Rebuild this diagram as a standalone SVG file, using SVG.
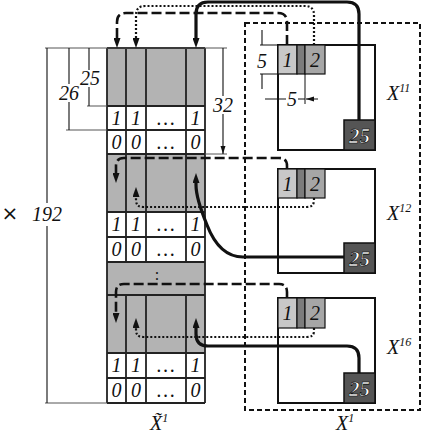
<svg xmlns="http://www.w3.org/2000/svg" width="422" height="433" viewBox="0 0 422 433">
<style>
text{font-family:"Liberation Serif","DejaVu Serif",serif;font-style:italic;fill:#111}
.num{font-size:20px;text-anchor:middle}
.lbl{font-size:20px}
.sup{font-size:12px}
.big{font-size:21px;font-weight:700;fill:#fff;text-anchor:middle;stroke:#000;stroke-width:0.6}
.grid{stroke:#222;stroke-width:1.8;fill:none}
.ext{stroke:#555;stroke-width:1;fill:none}
.dim{stroke:#111;stroke-width:1.1;fill:none;marker-end:url(#sa)}
.box{fill:#fff;stroke:#111;stroke-width:2}
.c1{fill:#c8c8c8;stroke:#111;stroke-width:1.2}
.cs{fill:#7c7c7c;stroke:#111;stroke-width:1.2}
.c2{fill:#a6a6a6;stroke:#111;stroke-width:1.2}
.c25{fill:#555;stroke:#111;stroke-width:1.5}
.dash{stroke:#111;stroke-width:2.6;fill:none;stroke-dasharray:10,4;marker-end:url(#ar)}
.dot{stroke:#111;stroke-width:2.2;fill:none;stroke-dasharray:2,2;marker-end:url(#ar)}
.solid{stroke:#111;stroke-width:3.2;fill:none;marker-end:url(#ar)}
</style>
<defs>
<marker id="ar" markerUnits="userSpaceOnUse" markerWidth="11" markerHeight="7" refX="2" refY="3.5" orient="auto"><path d="M0,0 L10,3.5 L0,7 z" fill="#111"/></marker>
<marker id="sa" markerUnits="userSpaceOnUse" markerWidth="9" markerHeight="6" refX="8" refY="2.5" orient="auto"><path d="M0,0 L8,2.5 L0,5 z" fill="#111"/></marker>
</defs>

<g id="outer-box">
<rect x="245" y="23" width="175" height="387" fill="none" stroke="#111" stroke-width="2" stroke-dasharray="5,3"/>
</g>

<g id="matrix">
<rect x="107" y="48" width="98" height="58" fill="#b3b3b3"/>
<rect x="107" y="154" width="98" height="58" fill="#b3b3b3"/>
<rect x="107" y="262" width="98" height="91" fill="#b3b3b3"/>
<rect x="107" y="106" width="98" height="48" fill="#fff"/>
<rect x="107" y="212" width="98" height="50" fill="#fff"/>
<rect x="107" y="353" width="98" height="50" fill="#fff"/>
<path class="grid" d="M107,48V403M205,48V403M126,48V262M146,48V262M186,48V262M126,295V403M146,295V403M186,295V403M107,48H205M107,106H205M107,130H205M107,154H205M107,212H205M107,237H205M107,262H205M107,295H205M107,353H205M107,378H205M107,403H205"/>
<g class="num">
<text x="116.5" y="125">1</text><text x="136" y="125">1</text><text x="166" y="125">…</text><text x="195.5" y="125">1</text>
<text x="116.5" y="149">0</text><text x="136" y="149">0</text><text x="166" y="149">…</text><text x="195.5" y="149">0</text>
<text x="116.5" y="231">1</text><text x="136" y="231">1</text><text x="166" y="231">…</text><text x="195.5" y="231">1</text>
<text x="116.5" y="256">0</text><text x="136" y="256">0</text><text x="166" y="256">…</text><text x="195.5" y="256">0</text>
<text x="116.5" y="372">1</text><text x="136" y="372">1</text><text x="166" y="372">…</text><text x="195.5" y="372">1</text>
<text x="116.5" y="397">0</text><text x="136" y="397">0</text><text x="166" y="397">…</text><text x="195.5" y="397">0</text>
<text x="157" y="280" style="font-style:normal;font-size:16px">:</text>
</g>
</g>

<g id="dimensions">
<path class="ext" d="M45,48H227M45,403H107M87,106H107M66,130H107M205,154H227"/>
<path class="dim" d="M47,203V48M47,226V403M69,84V48M69,102V130M89,70V48M89,87V106M223,96V48M223,114V154"/>
<text class="num" x="47" y="221">192</text>
<text x="10" y="220" style="font-style:normal;font-size:20px;text-anchor:middle;font-family:'DejaVu Sans',sans-serif">×</text>
<text class="num" x="69" y="100">26</text>
<text class="num" x="90" y="85">25</text>
<text class="num" x="223" y="112">32</text>
</g>

<g id="X11">
<rect class="box" x="278" y="45" width="97" height="105"/>
<rect class="c1" x="278" y="45" width="19" height="29"/>
<rect class="cs" x="297" y="45" width="8" height="29"/>
<rect class="c2" x="305" y="45" width="20" height="29"/>
<rect class="c25" x="344" y="120" width="31" height="30"/>
<text class="num" x="287.5" y="67">1</text>
<text class="num" x="315" y="67">2</text>
<text class="big" x="359.5" y="143">25</text>
<text class="lbl" x="387" y="100">X<tspan class="sup" dy="-8">11</tspan></text>
<path class="ext" d="M260,45H278M260,74H278M305,74V104" style="stroke:#111"/>
<path class="ext" d="M278,99H286M298,99H305" style="stroke:#111;stroke-width:1.1"/>
<path class="dim" d="M262,30V45M262,89V74M265,99H278M318,99H306"/>
<text class="num" x="262" y="68">5</text>
<text class="num" x="292" y="106">5</text>
</g>

<g id="X12">
<rect class="box" x="278" y="169" width="97" height="104"/>
<rect class="c1" x="278" y="169" width="19" height="29"/>
<rect class="cs" x="297" y="169" width="8" height="29"/>
<rect class="c2" x="305" y="169" width="20" height="29"/>
<rect class="c25" x="344" y="243" width="31" height="30"/>
<text class="num" x="287.5" y="191">1</text>
<text class="num" x="315" y="191">2</text>
<text class="big" x="359.5" y="266">25</text>
<text class="lbl" x="387" y="220">X<tspan class="sup" dy="-8">12</tspan></text>
</g>

<g id="X16">
<rect class="box" x="278" y="298" width="97" height="105"/>
<rect class="c1" x="278" y="298" width="19" height="30"/>
<rect class="cs" x="297" y="298" width="8" height="30"/>
<rect class="c2" x="305" y="298" width="20" height="30"/>
<rect class="c25" x="344" y="373" width="31" height="30"/>
<text class="num" x="287.5" y="320">1</text>
<text class="num" x="315" y="320">2</text>
<text class="big" x="359.5" y="396">25</text>
<text class="lbl" x="387" y="354">X<tspan class="sup" dy="-8">16</tspan></text>
</g>

<g id="labels">
<text class="lbl" x="150" y="430">X̃<tspan class="sup" dy="-8">1</tspan></text>
<text class="lbl" x="336" y="430">X<tspan class="sup" dy="-8">1</tspan></text>
</g>

<g id="connectors">
<path class="dash" d="M287,45V22Q287,13 278,13H126Q117,13 117,22V40"/>
<path class="dot" d="M314,45V15Q314,6 305,6H145Q136,6 136,15V40"/>
<path class="solid" d="M359,120V14Q359,2 347,2H208Q196,2 196,14V40"/>
<path class="dash" d="M287,169V166Q287,158 279,158H124Q116,158 116,166V175"/>
<path class="dot" d="M314,198V200Q314,207 307,207H143Q136,207 136,200V195"/>
<path class="solid" d="M344,257H243C225,257 214,243 207,225C200,208 196,195 196,185V181"/>
<path class="dash" d="M287,298V292Q287,284 279,284H124Q116,284 116,292V315"/>
<path class="dot" d="M314,328V331Q314,337 307,337H143Q136,337 136,330V326"/>
<path class="solid" d="M359,373V358Q359,346 347,346H208Q196,346 196,334V326"/>
</g>
</svg>
